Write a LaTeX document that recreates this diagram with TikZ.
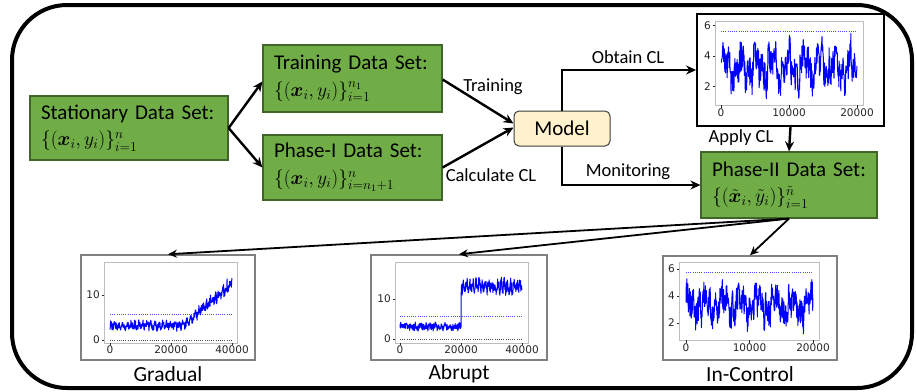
\documentclass[tikz,border=0pt]{standalone}
\usepackage{fix-cm}
\usepackage{amsmath,bm}
\usepackage{fontspec}
\setmainfont{Carlito}
\newfontfamily\tickfont{DejaVu Sans}
\usetikzlibrary{arrows.meta,calc}

\definecolor{boxgreen}{RGB}{112,173,71}
\definecolor{boxedge}{RGB}{65,100,40}
\definecolor{modelfill}{RGB}{255,242,204}
\definecolor{modeledge}{RGB}{60,60,60}
\definecolor{framegray}{RGB}{128,128,128}
\definecolor{axisgray}{RGB}{190,190,190}
\definecolor{ticktext}{RGB}{38,38,38}
\definecolor{sigblue}{RGB}{0,0,255}

% noisy signal inside a chart: seed, x of t=0, width, y of value 0, scale, value(t)
\newcommand{\noisetrace}[6]{%
  \pgfmathsetseed{#1}%
  \draw[sig] plot[domain=0:1, samples=420] ({#2+\x*#3},{#4-(#6)*#5});%
}
% second line of a data box: the set in math, slightly smaller than the title
\newcommand{\setline}[1]{\fontsize{19.5}{23}\selectfont$#1$}

\tikzset{
  databox/.style={draw=boxedge, fill=boxgreen, line width=1.2pt, align=left,
    inner xsep=11pt, inner ysep=0pt, font=\fontsize{21}{26.5}\selectfont},
  modelbox/.style={draw=modeledge, fill=modelfill, line width=1pt, rounded corners=5pt,
    minimum width=96pt, minimum height=35pt, font=\fontsize{21}{25}\selectfont},
  flow/.style={line width=2.4pt, -{Stealth[length=10pt,width=9pt]}},
  fan/.style={line width=1.8pt, -{Stealth[length=9pt,width=8pt]}},
  lbl/.style={font=\fontsize{18.5}{22}\selectfont, inner sep=0pt},
  caption/.style={font=\fontsize{21.5}{25}\selectfont, inner sep=0pt},
  chartframe/.style={draw=framegray, line width=1.5pt, fill=white, inner sep=0pt},
  axisbox/.style={draw=axisgray, line width=0.8pt},
  tickmark/.style={draw=ticktext, line width=0.6pt},
  ticklbl/.style={font=\tickfont\fontsize{10.5}{12}\selectfont, text=ticktext, inner sep=0pt},
  clline/.style={draw=sigblue!70, line width=0.7pt, dash pattern=on 1pt off 1.2pt},
  zeroline/.style={draw=black!70, line width=0.7pt, dash pattern=on 1pt off 1.2pt},
  sig/.style={draw=sigblue, line width=1pt, line join=round},
}

\begin{document}
\begin{tikzpicture}[x=1pt, y=-1pt]
\useasboundingbox (0,0) rectangle (917,391);

% enclosing frame
\draw[line width=4pt, rounded corners=55pt] (12,5) rectangle (912,388);

% data set boxes
\node[databox, minimum width=198pt, minimum height=64pt, text width=176pt] (Stat) at (129,128)
  {Stationary Data Set:\\ \setline{\{(\bm{x}_i,y_i)\}_{i=1}^{n}}};
\node[databox, minimum width=179pt, minimum height=67pt, text width=157pt] (Train) at (352.5,78.5)
  {Training Data Set:\\ \setline{\{(\bm{x}_i,y_i)\}_{i=1}^{n_1}}};
\node[databox, minimum width=179pt, minimum height=65pt, text width=157pt] (PhaseI) at (352.5,167.5)
  {Phase-I Data Set:\\ \setline{\{(\bm{x}_i,y_i)\}_{i=n_1+1}^{n}}};
\node[databox, minimum width=176pt, minimum height=66pt, text width=154pt] (PhaseII) at (789,185)
  {Phase-II Data Set:\\ \setline{\{(\tilde{\bm{x}}_i,\tilde{y}_i)\}_{i=1}^{\tilde{n}}}};

\node[modelbox] (Model) at (562,128.5) {Model};

% ---------- control-limit chart ----------
\node[chartframe, draw=black, line width=1.8pt, minimum width=187pt, minimum height=112pt] (TopChart) at (790.5,70) {};
\draw[axisbox] (715,21) rectangle (863,105);
\foreach \v/\yy in {2/86.5,4/56,6/25.5}{
  \draw[tickmark] (715,\yy) -- (712.5,\yy);
  \node[ticklbl, anchor=east] at (711,\yy) {\v};
}
\foreach \t/\xx in {0/721,10000/789,20000/857}{
  \draw[tickmark] (\xx,105) -- (\xx,107.5);
  \node[ticklbl, anchor=north] at (\xx,108.5) {\t};
}
\draw[clline] (721,31.5) -- (857,31.5);
\noisetrace{11}{721}{136}{117}{15.25}{min(5.85,max(1.2,3.3+0.7*sin(\x*3100)+0.5*sin(\x*7300+30)+0.3*sin(\x*13700)+1.05*rand))}

% ---------- gradual shift chart ----------
\node[chartframe, minimum width=174pt, minimum height=105pt] (ChartG) at (168,307.5) {};
\draw[axisbox] (104,262) rectangle (237,343);
\foreach \v/\yy in {0/340,10/295}{
  \draw[tickmark] (104,\yy) -- (101.5,\yy);
  \node[ticklbl, anchor=east] at (100,\yy) {\v};
}
\foreach \t/\xx in {0/110,20000/171,40000/232}{
  \draw[tickmark] (\xx,343) -- (\xx,345);
  \node[ticklbl, anchor=north] at (\xx,345.5) {\t};
}
\draw[zeroline] (110,340) -- (232,340);
\draw[clline] (110,314.8) -- (232,314.8);
\noisetrace{23}{110}{122}{340}{4.5}{max(1.2,3.2+0.4*sin(\x*11000)+0.9*rand+23*max(0,\x-0.6)+3.2*max(0,\x-0.6)*rand)}

% ---------- abrupt shift chart ----------
\node[chartframe, minimum width=176pt, minimum height=105pt] (ChartA) at (459,307.5) {};
\draw[axisbox] (395,262) rectangle (528,343);
\foreach \v/\yy in {0/339,10/299}{
  \draw[tickmark] (395,\yy) -- (392.5,\yy);
  \node[ticklbl, anchor=east] at (391,\yy) {\v};
}
\foreach \t/\xx in {0/400,20000/461,40000/522}{
  \draw[tickmark] (\xx,343) -- (\xx,345);
  \node[ticklbl, anchor=north] at (\xx,345.5) {\t};
}
\draw[zeroline] (400,339) -- (522,339);
\draw[clline] (400,316.6) -- (522,316.6);
\noisetrace{37}{400}{122}{339}{4.0}{ifthenelse(\x<0.5, 3.1+0.3*sin(\x*9000)+0.9*rand, 13.2+0.9*sin(\x*14000)+1.6*rand)}

% ---------- in-control chart ----------
\node[chartframe, minimum width=174pt, minimum height=104pt] (ChartC) at (750,308) {};
\draw[axisbox] (679,262) rectangle (819,340);
\foreach \v/\yy in {2/323,4/296,6/269}{
  \draw[tickmark] (679,\yy) -- (676.5,\yy);
  \node[ticklbl, anchor=east] at (675,\yy) {\v};
}
\foreach \t/\xx in {0/686,10000/749.5,20000/813}{
  \draw[tickmark] (\xx,340) -- (\xx,342.5);
  \node[ticklbl, anchor=north] at (\xx,343.5) {\t};
}
\draw[clline] (686,272.4) -- (813,272.4);
\noisetrace{53}{686}{127}{350}{13.5}{min(6.0,max(1.2,3.3+0.6*sin(\x*2600+60)+0.5*sin(\x*8100)+0.3*sin(\x*13900)+1.05*rand))}

% chart captions
\node[caption] (capG) at (168,374) {Gradual};
\node[caption] (capA) at (459,374) {Abrupt};
\node[caption] (capC) at (750,374) {In-Control};

% ---------- connectors ----------
\coordinate (mTrain) at ($(Model.west)+(0,-5)$);
\coordinate (mCalc) at ($(Model.west)+(0,-1)$);
\draw[flow] (Stat.east) -- ($(Train.west)+(0,3)$);
\draw[flow] (Stat.east) -- (PhaseI.west);
\draw[flow] ($(Train.east)+(0,1)$) -- (mTrain);
\draw[flow] ($(PhaseI.east)+(0,0)$) -- (mCalc);
\draw[flow] (Model.north) |- (TopChart.west);
\draw[flow] (Model.south) |- (PhaseII.west);
\draw[flow] (TopChart.south) -- (PhaseII.north);
\draw[fan] (PhaseII.south) -- (ChartG.north);
\draw[fan] (PhaseII.south) -- (ChartA.north);
\draw[fan] (PhaseII.south) -- (ChartC.north);

% connector labels
\node[lbl] (lTrain) at (493,87) {Training};
\node[lbl] (lCalc) at (491,175) {Calculate CL};
\node[lbl] (lObtain) at (628,57) {Obtain CL};
\node[lbl] (lMon) at (628,172) {Monitoring};
\node[lbl] (lApply) at (741,138) {Apply CL};
\end{tikzpicture}
\end{document}
